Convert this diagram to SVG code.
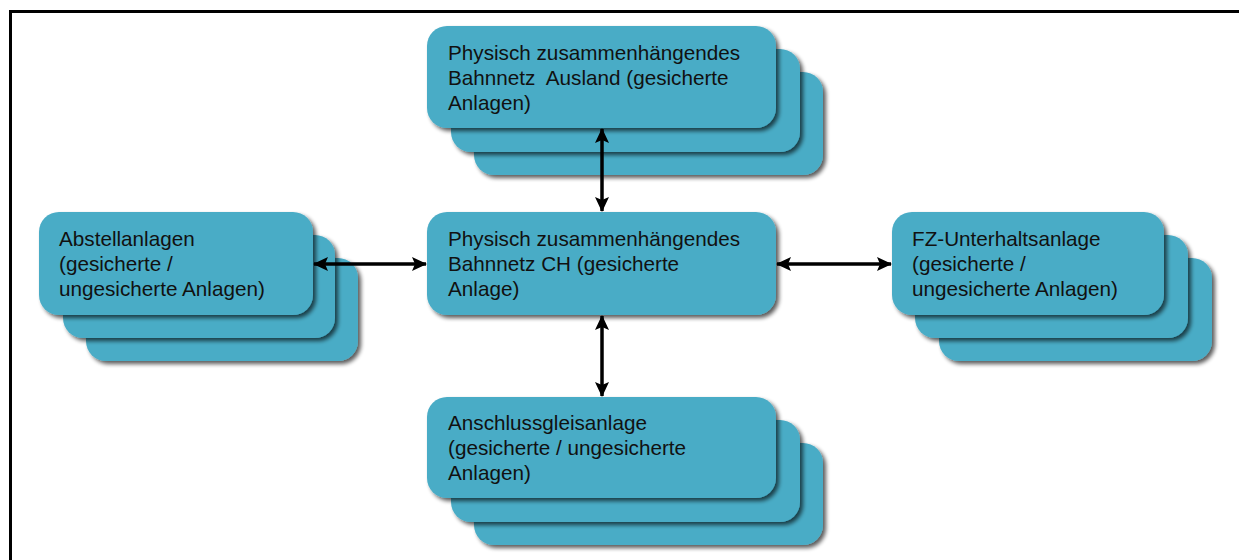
<svg xmlns="http://www.w3.org/2000/svg" width="1239" height="560" viewBox="0 0 1239 560">
  <defs>
    <filter id="shadow" x="-10%" y="-10%" width="125%" height="135%">
      <feGaussianBlur in="SourceAlpha" stdDeviation="2.2"/>
      <feOffset dx="2.5" dy="3" result="b"/>
      <feComponentTransfer><feFuncA type="linear" slope="0.65"/></feComponentTransfer>
      <feMerge><feMergeNode/><feMergeNode in="SourceGraphic"/></feMerge>
    </filter>
    <marker id="head" viewBox="0 0 15 14" refX="14" refY="7" markerWidth="15" markerHeight="14" markerUnits="userSpaceOnUse" orient="auto-start-reverse">
      <path d="M0,0 L15,7 L0,14 L3,7 Z" fill="#000"/>
    </marker>
  </defs>
  <style>
    .box { fill: #4AACC6; filter: url(#shadow); }
    .lbl { font-family: "Liberation Sans", Arial, sans-serif; font-size: 20.7px; fill: #111; }
    .conn { stroke: #000; stroke-width: 3.5; fill: none; marker-start: url(#head); marker-end: url(#head); }
    .frame { stroke: #000; stroke-width: 3; fill: none; }
  </style>

  <rect width="1239" height="560" fill="#fff"/>
  <path class="frame" d="M10.5,560 V11.5 H1239"/>

  <!-- foreign network (stacked) -->
  <g id="node-ausland">
    <rect class="box" x="474" y="72" width="349" height="103" rx="20"/>
    <rect class="box" x="451" y="49" width="349" height="103" rx="20"/>
    <rect class="box" x="427" y="26" width="349" height="102" rx="20"/>
    <text class="lbl" x="448" y="60">Physisch zusammenhängendes</text>
    <text class="lbl" x="448" y="85">Bahnnetz&#160; Ausland (gesicherte</text>
    <text class="lbl" x="448" y="110">Anlagen)</text>
  </g>

  <!-- central network -->
  <g id="node-ch">
    <rect class="box" x="427" y="212" width="349" height="103" rx="20"/>
    <text class="lbl" x="448" y="246">Physisch zusammenhängendes</text>
    <text class="lbl" x="448" y="271">Bahnnetz CH (gesicherte</text>
    <text class="lbl" x="448" y="296">Anlage)</text>
  </g>

  <!-- parking facilities (stacked) -->
  <g id="node-abstell">
    <rect class="box" x="86" y="258" width="272" height="103" rx="20"/>
    <rect class="box" x="63" y="235" width="272" height="103" rx="20"/>
    <rect class="box" x="39" y="212" width="274" height="103" rx="20"/>
    <text class="lbl" x="59" y="246">Abstellanlagen</text>
    <text class="lbl" x="59" y="271">(gesicherte /</text>
    <text class="lbl" x="59" y="296">ungesicherte Anlagen)</text>
  </g>

  <!-- maintenance facility (stacked) -->
  <g id="node-unterhalt">
    <rect class="box" x="939" y="258" width="273" height="103" rx="20"/>
    <rect class="box" x="915" y="235" width="273" height="103" rx="20"/>
    <rect class="box" x="892" y="212" width="272" height="103" rx="20"/>
    <text class="lbl" x="912" y="246">FZ-Unterhaltsanlage</text>
    <text class="lbl" x="912" y="271">(gesicherte /</text>
    <text class="lbl" x="912" y="296">ungesicherte Anlagen)</text>
  </g>

  <!-- siding (stacked) -->
  <g id="node-anschluss">
    <rect class="box" x="474" y="443" width="349" height="102" rx="20"/>
    <rect class="box" x="451" y="420" width="349" height="102" rx="20"/>
    <rect class="box" x="427" y="397" width="349" height="101" rx="20"/>
    <text class="lbl" x="448" y="430">Anschlussgleisanlage</text>
    <text class="lbl" x="448" y="455">(gesicherte / ungesicherte</text>
    <text class="lbl" x="448" y="480">Anlagen)</text>
  </g>

  <g id="connectors">
    <line class="conn" x1="602" y1="129" x2="602" y2="211"/>
    <line class="conn" x1="602" y1="316" x2="602" y2="396"/>
    <line class="conn" x1="314" y1="264" x2="426" y2="264"/>
    <line class="conn" x1="777" y1="264" x2="891" y2="264"/>
  </g>
</svg>
